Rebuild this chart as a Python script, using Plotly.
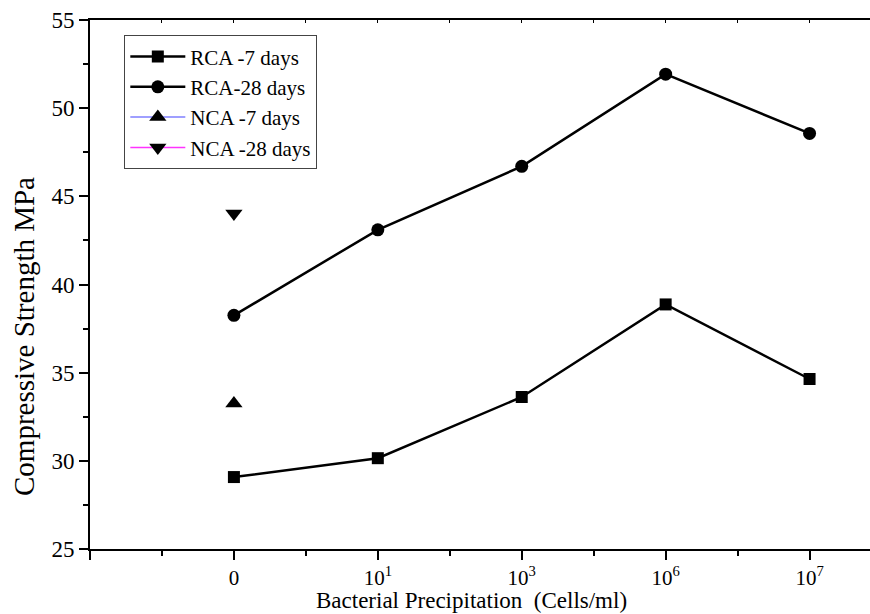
import plotly.graph_objects as go

categories = ["0", "10<sup>1</sup>", "10<sup>3</sup>", "10<sup>6</sup>", "10<sup>7</sup>"]
cat_pos = [0, 1, 2, 3, 4]
rca_7 = [29.08, 30.15, 33.62, 38.87, 34.64]
rca_28 = [38.25, 43.1, 46.7, 51.93, 48.57]
nca_7 = [33.25]
nca_28 = [44.02]

FONT = "Liberation Serif, Times New Roman, serif"

fig = go.Figure()
fig.add_trace(go.Scatter(x=cat_pos, y=rca_7, mode="lines+markers", name="RCA -7 days",
                         line=dict(color="black", width=2.5),
                         marker=dict(symbol="square", size=12, color="black")))
fig.add_trace(go.Scatter(x=cat_pos, y=rca_28, mode="lines+markers", name="RCA-28 days",
                         line=dict(color="black", width=2.5),
                         marker=dict(symbol="circle", size=13, color="black")))
fig.add_trace(go.Scatter(x=cat_pos[:1], y=nca_7, mode="lines+markers", name="NCA -7 days",
                         line=dict(color="#7f7fff", width=1.5),
                         marker=dict(symbol="triangle-up", size=15, color="black")))
fig.add_trace(go.Scatter(x=cat_pos[:1], y=nca_28, mode="lines+markers", name="NCA -28 days",
                         line=dict(color="#ff33ff", width=1.5),
                         marker=dict(symbol="triangle-down", size=15, color="black")))
# invisible trace so the top (mirror) axis with inward ticks is drawn
fig.add_trace(go.Scatter(x=cat_pos[:1], y=nca_28, xaxis="x2", mode="markers",
                         marker=dict(opacity=0), showlegend=False, hoverinfo="skip"))

fig.update_layout(
    width=870, height=614,
    margin=dict(l=90, r=0, t=20, b=65),
    plot_bgcolor="white", paper_bgcolor="white",
    font=dict(family=FONT, size=20, color="black"),
    showlegend=True,
    legend=dict(x=0.044, y=0.971, xanchor="left", yanchor="top",
                bordercolor="#444", borderwidth=1, bgcolor="white",
                font=dict(family=FONT, size=21), itemwidth=55,
                tracegroupgap=0),
    xaxis=dict(range=[-1, 4.42], tickmode="array", tickvals=[-1] + cat_pos,
               ticktext=[" "] + categories, ticks="outside", ticklen=9, tickwidth=2,
               tickcolor="black", showline=True, linecolor="black", linewidth=2,
               mirror=True, showgrid=False, zeroline=False,
               minor=dict(tickmode="array", tickvals=[-0.5, 0.5, 1.5, 2.5, 3.5],
                          ticks="outside", ticklen=5, tickwidth=2, tickcolor="black"),
               tickfont=dict(family=FONT, size=21)),
    xaxis2=dict(range=[-1, 4.42], overlaying="x", side="top", tickmode="array",
                tickvals=[-0.5, 0, 0.5, 1, 1.5, 2, 2.5, 3, 3.5, 4],
                ticks="inside", ticklen=3, tickwidth=1, tickcolor="black",
                showticklabels=False, showline=False, showgrid=False, zeroline=False),
    yaxis=dict(range=[25, 55], tickmode="linear", tick0=25, dtick=5,
               ticks="outside", ticklen=9, tickwidth=2, tickcolor="black",
               showline=True, linecolor="black", linewidth=2, mirror=False,
               showgrid=False, zeroline=False,
               minor=dict(tick0=25, dtick=2.5, ticks="outside", ticklen=5,
                          tickwidth=2, tickcolor="black"),
               tickfont=dict(family=FONT, size=23)),
    annotations=[
        dict(text="Bacterial Precipitation  (Cells/ml)", xref="paper", yref="paper",
             x=(471 - 90) / 780, y=-(600 - 549) / 529, xanchor="center", yanchor="middle",
             showarrow=False, font=dict(family=FONT, size=23)),
        dict(text="Compressive Strength MPa", xref="paper", yref="paper",
             x=(24 - 90) / 780, y=(549 - 337) / 529, xanchor="center", yanchor="middle",
             textangle=-90, showarrow=False, font=dict(family=FONT, size=29)),
    ],
)

fig.write_html("out.html", config={"displayModeBar": False},
               post_script="document.body.style.margin='0';")
